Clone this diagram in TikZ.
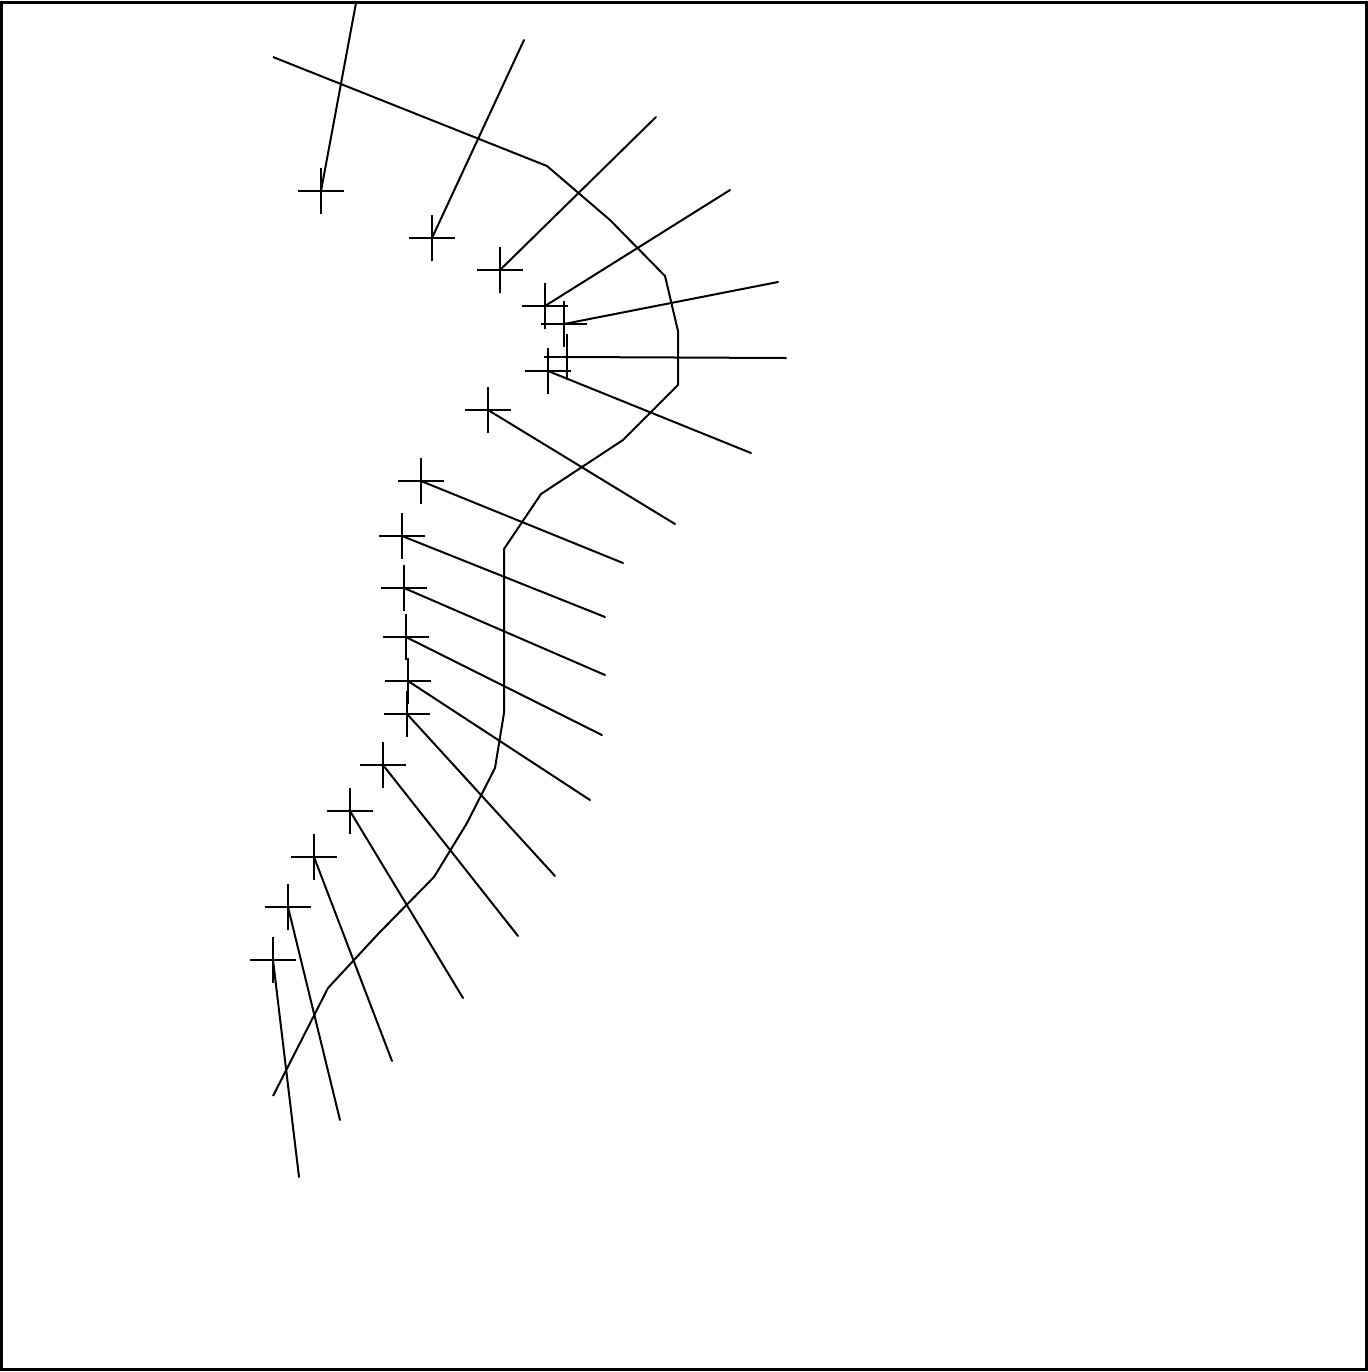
\documentclass[tikz,border=0pt]{standalone}
\begin{document}
\begin{tikzpicture}[x=0.5pt,y=-0.5pt,
  ray/.style={line width=1pt, line cap=round},
  curveline/.style={line width=1pt, line join=round},
  framebox/.style={line width=1.6pt},
  plusmark/.pic={\draw[line width=1.3pt] (-11.7pt,0)--(11.7pt,0) (0,-11.7pt)--(0,11.7pt);}]
\useasboundingbox (0,0) rectangle (1368,1372);
\draw[framebox] (1.6,2.6) rectangle (1366.8,1369.4);
% main curve
\draw[curveline] (273,57) -- (547,166) -- (610,220) -- (665,276) -- (678,331) -- (678,385)
  -- (623,440) -- (541,494) -- (504,549) -- (504,713) -- (495,768) -- (467,823)
  -- (434,877) -- (379,933) -- (328,988) -- (273,1096);
% markers and rays
\foreach \i/\cx/\cy/\ex/\ey in {
  1/321/191/356/3,
  2/432/238/524/40,
  3/500/270/656/117,
  4/545/306/730/190,
  5/564/324/778/282,
  6/567/357/786/358,
  7/548/371/751/453,
  8/488/410/675/524,
  9/421/481/623/563,
  10/402/536/605/617,
  11/404/588/605/675,
  12/406/637/602/735,
  13/408/681/590/800,
  14/407/714/555/876,
  15/383/765/518/936,
  16/350/811/463/998,
  17/314/857/392/1061,
  18/288/907/340/1120,
  19/273/960/299/1177}
{
  \coordinate (c\i) at (\cx,\cy);
  \coordinate (e\i) at (\ex,\ey);
  \draw[ray] (c\i) -- (e\i);
  \pic at (c\i) {plusmark};
}
\end{tikzpicture}
\end{document}
